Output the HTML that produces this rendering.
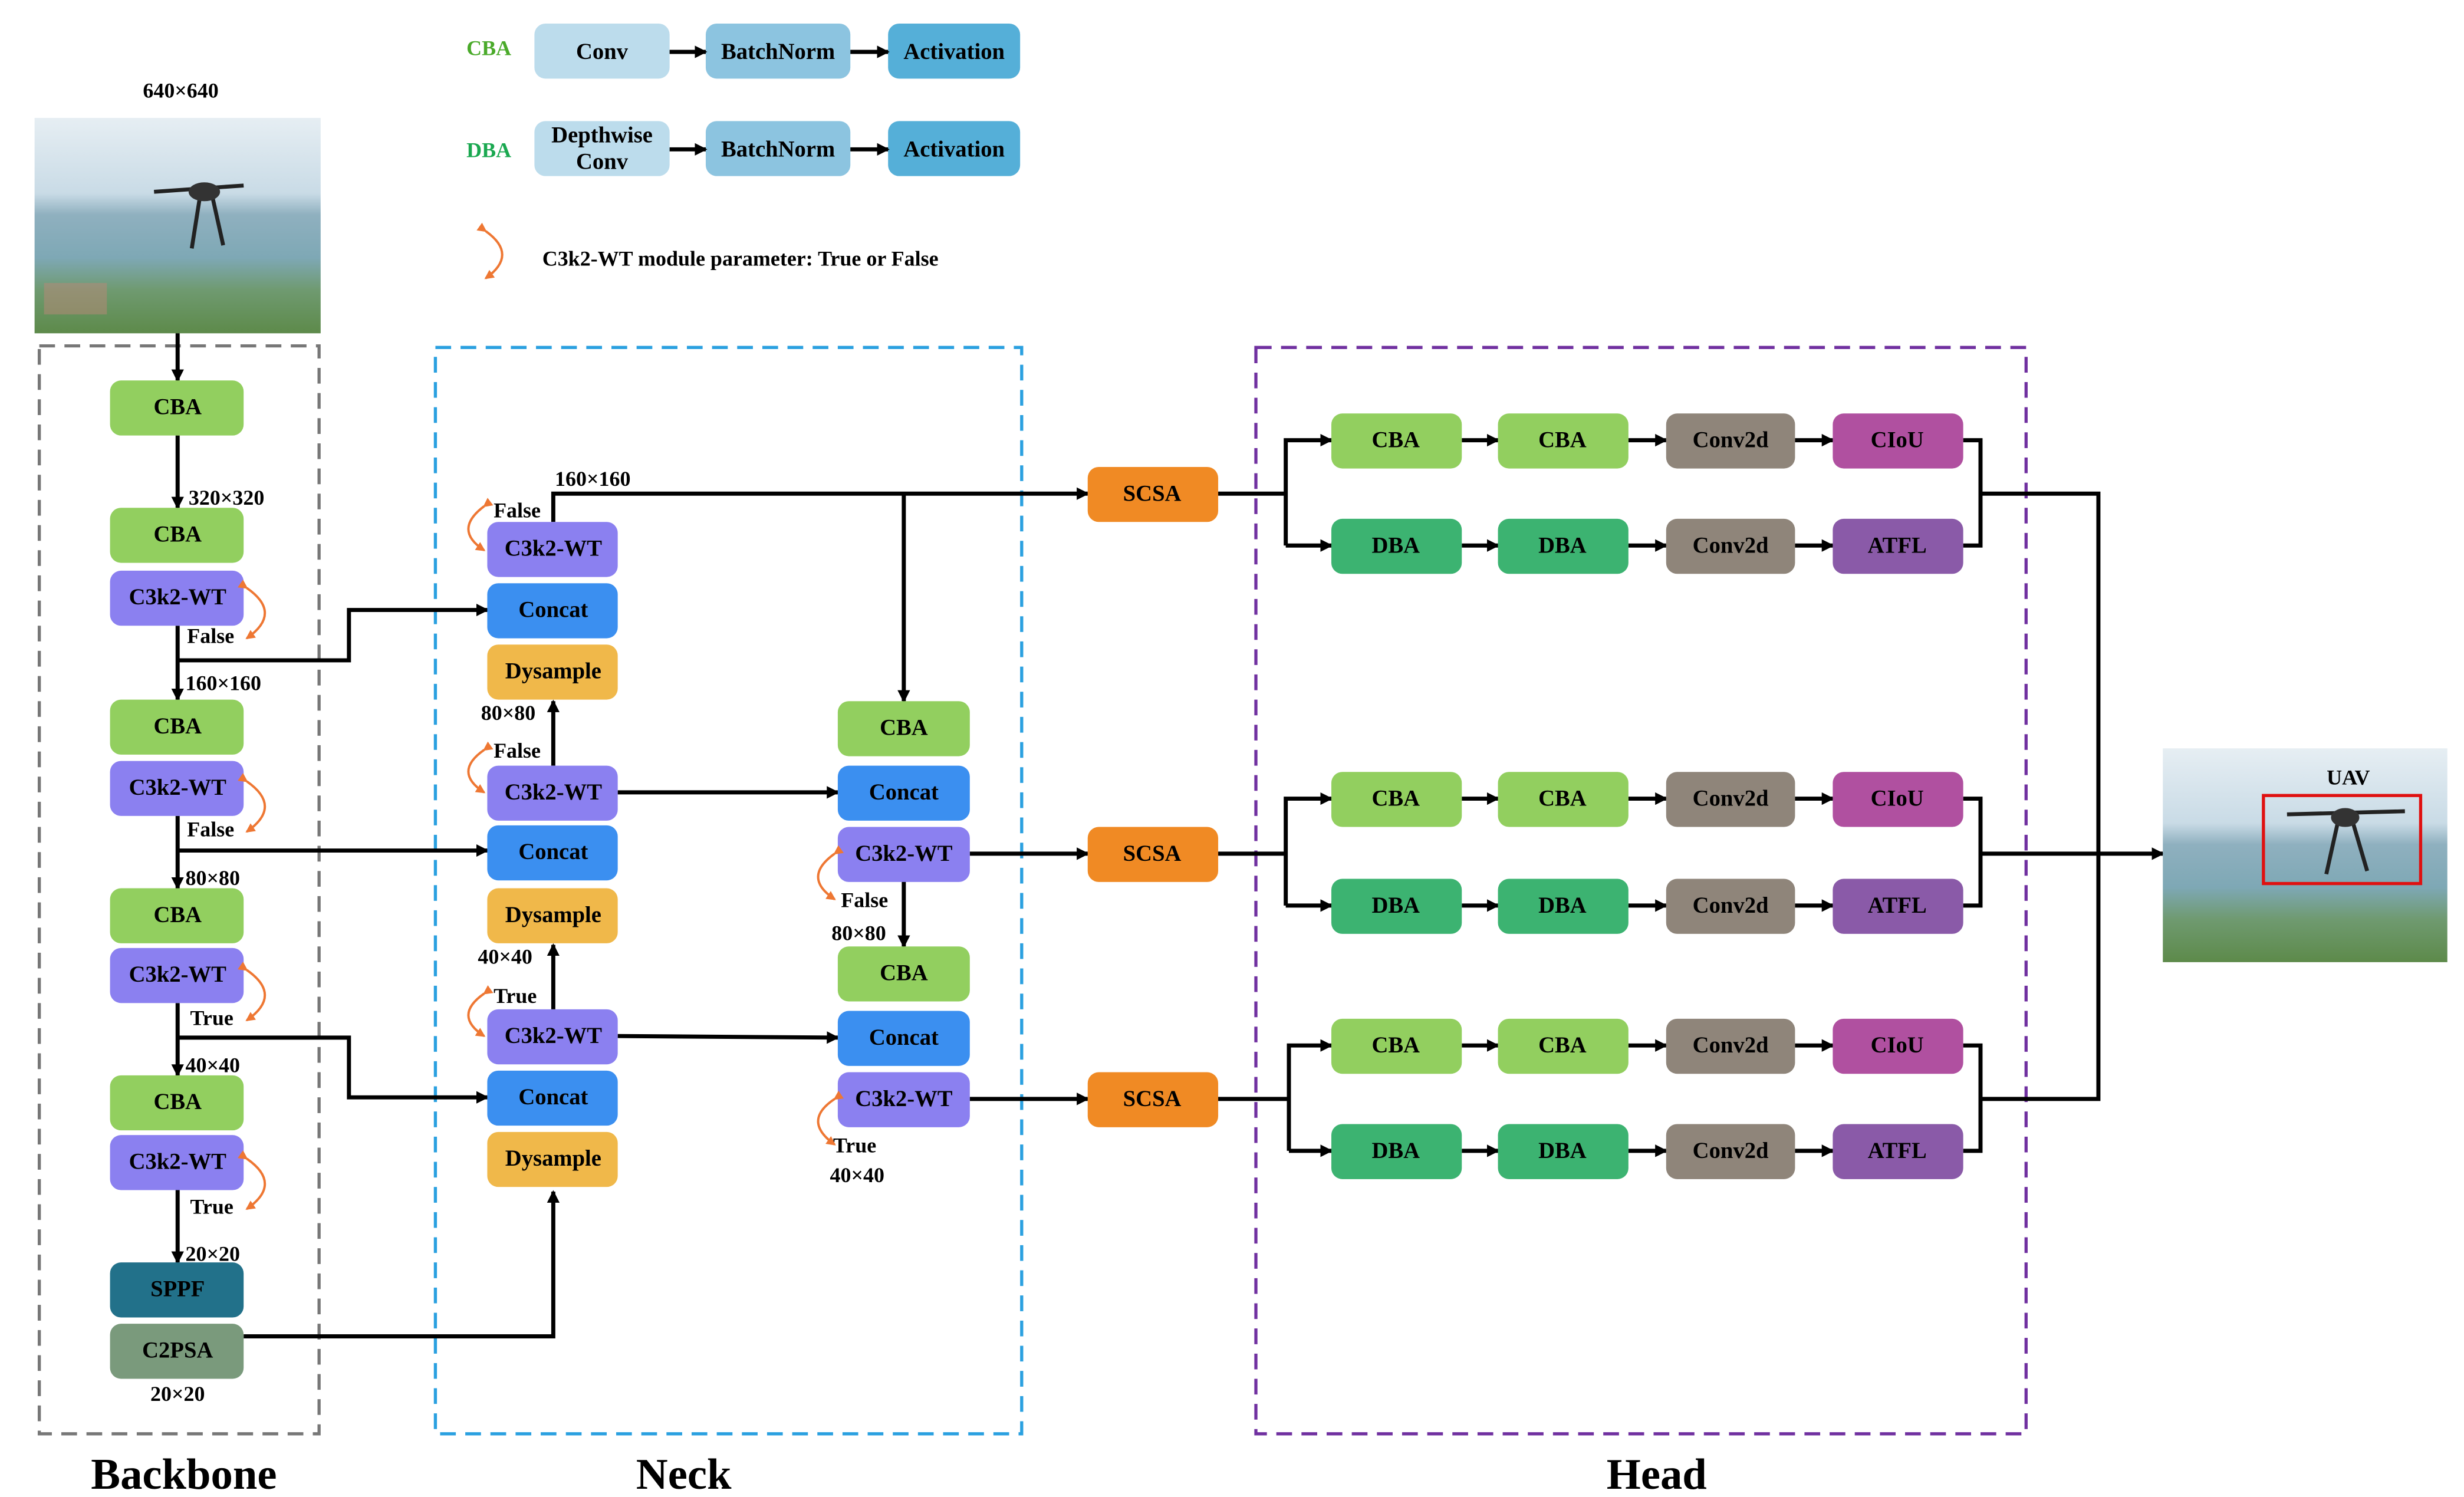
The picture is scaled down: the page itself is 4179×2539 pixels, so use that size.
<!DOCTYPE html>
<html><head><meta charset="utf-8"><style>
html,body{margin:0;padding:0;background:#fff;}
svg{display:block;}
text{font-family:"Liberation Serif",serif;font-weight:bold;}
</style></head><body>
<svg width="4179" height="2539" viewBox="0 0 1567.6 952.2" preserveAspectRatio="none" xmlns="http://www.w3.org/2000/svg">
<defs>
<marker id="a" markerWidth="8" markerHeight="8" refX="7" refY="4" orient="auto" markerUnits="userSpaceOnUse"><path d="M0,0 L8,4 L0,8 z" fill="#000"/></marker>
<marker id="o" markerWidth="6" markerHeight="6" refX="5" refY="3" orient="auto" markerUnits="userSpaceOnUse"><path d="M0,0 L6,3 L0,6 z" fill="#ee7733"/></marker>
<linearGradient id="sky" x1="0" y1="0" x2="0" y2="1">
<stop offset="0" stop-color="#e6eef3"/><stop offset="0.35" stop-color="#c9dbe6"/><stop offset="0.45" stop-color="#8fb0bf"/><stop offset="0.65" stop-color="#7ea8b5"/><stop offset="0.8" stop-color="#6f9a70"/><stop offset="1" stop-color="#5d8a4a"/></linearGradient>
</defs>
<style>
.b{stroke:none;}
.t{font-size:14.5px;text-anchor:middle;dominant-baseline:central;}
.s{font-size:13.5px;}
.l{stroke:#000;stroke-width:2.6;fill:none;}
.la{stroke:#000;stroke-width:2.6;fill:none;marker-end:url(#a);}
.oc{stroke:#ee7733;stroke-width:1.5;fill:none;marker-end:url(#o);marker-start:url(#o);}
</style>

<!-- legend -->
<text x="311" y="35" class="s" fill="#4aaa2a" text-anchor="middle" font-size="15">CBA</text>
<text x="311" y="100" class="s" fill="#1aa850" text-anchor="middle" font-size="15">DBA</text>
<rect x="340" y="15" width="86" height="35" rx="7" fill="#bcdcec"/><text x="383" y="33" class="t">Conv</text>
<rect x="449" y="15" width="92" height="35" rx="7" fill="#8cc4e0"/><text x="495" y="33" class="t">BatchNorm</text>
<rect x="565" y="15" width="84" height="35" rx="7" fill="#55afd8"/><text x="607" y="33" class="t">Activation</text>
<rect x="340" y="77" width="86" height="35" rx="7" fill="#bcdcec"/><text x="383" y="86" class="t">Depthwise</text><text x="383" y="103" class="t">Conv</text>
<rect x="449" y="77" width="92" height="35" rx="7" fill="#8cc4e0"/><text x="495" y="95" class="t">BatchNorm</text>
<rect x="565" y="77" width="84" height="35" rx="7" fill="#55afd8"/><text x="607" y="95" class="t">Activation</text>
<line x1="426" y1="33" x2="449" y2="33" class="la"/><line x1="541" y1="33" x2="565" y2="33" class="la"/>
<line x1="426" y1="95" x2="449" y2="95" class="la"/><line x1="541" y1="95" x2="565" y2="95" class="la"/>
<path d="M309,147 Q330,162 309,177" class="oc"/>
<text x="345" y="169" class="s" font-size="14.5">C3k2-WT module parameter: True or False</text>

<!-- input photo -->
<text x="115" y="62" class="s" text-anchor="middle">640×640</text>
<rect x="22" y="75" width="182" height="137" fill="url(#sky)"/>
<rect x="28" y="180" width="40" height="20" fill="#b98878" opacity="0.5"/>
<g stroke="#222" stroke-width="2.5"><line x1="98" y1="122" x2="155" y2="118"/><line x1="128" y1="120" x2="122" y2="158"/><line x1="134" y1="120" x2="142" y2="156"/></g>
<ellipse cx="130" cy="122" rx="10" ry="6" fill="#333"/>

<!-- dashed containers -->
<rect x="25" y="220" width="178" height="692" fill="none" stroke="#777" stroke-width="2" stroke-dasharray="10,6"/>
<rect x="277" y="221" width="373" height="691" fill="none" stroke="#2aa0e0" stroke-width="2" stroke-dasharray="10,6"/>
<rect x="799" y="221" width="490" height="691" fill="none" stroke="#7030a0" stroke-width="2" stroke-dasharray="10,6"/>
<text x="117" y="947" font-size="28" text-anchor="middle">Backbone</text>
<text x="435" y="947" font-size="28" text-anchor="middle">Neck</text>
<text x="1054" y="947" font-size="28" text-anchor="middle">Head</text>

<!-- backbone connectors -->
<line x1="113" y1="212" x2="113" y2="242" class="la"/>
<line x1="113" y1="277" x2="113" y2="323" class="la"/>
<line x1="113" y1="398" x2="113" y2="445" class="la"/>
<line x1="113" y1="519" x2="113" y2="565" class="la"/>
<line x1="113" y1="638" x2="113" y2="684" class="la"/>
<line x1="113" y1="757" x2="113" y2="803" class="la"/>
<polyline points="113,420 222,420 222,388 310,388" class="la"/>
<line x1="113" y1="541" x2="310" y2="541" class="la"/>
<polyline points="113,660 222,660 222,698 310,698" class="la"/>
<polyline points="155,850 352,850 352,758" class="la"/>

<!-- neck connectors -->
<line x1="352" y1="487" x2="352" y2="446" class="la"/>
<line x1="352" y1="642" x2="352" y2="601" class="la"/>
<polyline points="352,332 352,314 692,314" class="la"/>
<line x1="575" y1="314" x2="575" y2="446" class="la"/>
<line x1="393" y1="504" x2="533" y2="504" class="la"/>
<line x1="393" y1="659" x2="533" y2="660" class="la"/>
<line x1="617" y1="543" x2="692" y2="543" class="la"/>
<line x1="575" y1="560" x2="575" y2="602" class="la"/>
<line x1="617" y1="699" x2="692" y2="699" class="la"/>

<!-- head connectors -->
<g>
<polyline points="775,314 818,314" class="l"/><polyline points="818,347 818,280 847,280" class="la"/><line x1="818" y1="347" x2="847" y2="347" class="la"/>
<polyline points="775,543 818,543" class="l"/><polyline points="818,576 818,508 847,508" class="la"/><line x1="818" y1="576" x2="847" y2="576" class="la"/>
<polyline points="775,699 820,699" class="l"/><polyline points="820,732 820,665 847,665" class="la"/><line x1="820" y1="732" x2="847" y2="732" class="la"/>
</g>
<g>
<line x1="930" y1="280" x2="953" y2="280" class="la"/><line x1="1036" y1="280" x2="1060" y2="280" class="la"/><line x1="1142" y1="280" x2="1166" y2="280" class="la"/>
<line x1="930" y1="347" x2="953" y2="347" class="la"/><line x1="1036" y1="347" x2="1060" y2="347" class="la"/><line x1="1142" y1="347" x2="1166" y2="347" class="la"/>
<line x1="930" y1="508" x2="953" y2="508" class="la"/><line x1="1036" y1="508" x2="1060" y2="508" class="la"/><line x1="1142" y1="508" x2="1166" y2="508" class="la"/>
<line x1="930" y1="576" x2="953" y2="576" class="la"/><line x1="1036" y1="576" x2="1060" y2="576" class="la"/><line x1="1142" y1="576" x2="1166" y2="576" class="la"/>
<line x1="930" y1="665" x2="953" y2="665" class="la"/><line x1="1036" y1="665" x2="1060" y2="665" class="la"/><line x1="1142" y1="665" x2="1166" y2="665" class="la"/>
<line x1="930" y1="732" x2="953" y2="732" class="la"/><line x1="1036" y1="732" x2="1060" y2="732" class="la"/><line x1="1142" y1="732" x2="1166" y2="732" class="la"/>
</g>
<polyline points="1249,280 1260,280 1260,347 1249,347" class="l"/>
<polyline points="1249,508 1260,508 1260,576 1249,576" class="l"/>
<polyline points="1249,665 1260,665 1260,732 1249,732" class="l"/>
<polyline points="1260,314 1335,314 1335,699 1260,699" class="l"/>
<line x1="1260" y1="543" x2="1376" y2="543" class="la"/>

<!-- backbone boxes -->
<g class="t">
<rect x="70" y="242" width="85" height="35" rx="7" fill="#92cf5f"/><text x="113" y="259" class="t">CBA</text>
<rect x="70" y="323" width="85" height="35" rx="7" fill="#92cf5f"/><text x="113" y="340" class="t">CBA</text>
<rect x="70" y="363" width="85" height="35" rx="7" fill="#8b80f0"/><text x="113" y="380" class="t">C3k2-WT</text>
<rect x="70" y="445" width="85" height="35" rx="7" fill="#92cf5f"/><text x="113" y="462" class="t">CBA</text>
<rect x="70" y="484" width="85" height="35" rx="7" fill="#8b80f0"/><text x="113" y="501" class="t">C3k2-WT</text>
<rect x="70" y="565" width="85" height="35" rx="7" fill="#92cf5f"/><text x="113" y="582" class="t">CBA</text>
<rect x="70" y="603" width="85" height="35" rx="7" fill="#8b80f0"/><text x="113" y="620" class="t">C3k2-WT</text>
<rect x="70" y="684" width="85" height="35" rx="7" fill="#92cf5f"/><text x="113" y="701" class="t">CBA</text>
<rect x="70" y="722" width="85" height="35" rx="7" fill="#8b80f0"/><text x="113" y="739" class="t">C3k2-WT</text>
<rect x="70" y="803" width="85" height="35" rx="7" fill="#22718a"/><text x="113" y="820" class="t">SPPF</text>
<rect x="70" y="842" width="85" height="35" rx="7" fill="#7a9a7c"/><text x="113" y="859" class="t">C2PSA</text>
</g>
<text x="120" y="321" class="s">320×320</text>
<text x="118" y="439" class="s">160×160</text>
<text x="118" y="563" class="s">80×80</text>
<text x="118" y="682" class="s">40×40</text>
<text x="118" y="802" class="s">20×20</text>
<text x="113" y="891" class="s" text-anchor="middle">20×20</text>
<text x="119" y="409" class="s">False</text>
<text x="119" y="532" class="s">False</text>
<text x="121" y="652" class="s">True</text>
<text x="121" y="772" class="s">True</text>
<path d="M157,374 Q180,390 157,406" class="oc"/>
<path d="M157,497 Q180,513 157,529" class="oc"/>
<path d="M157,617 Q180,633 157,649" class="oc"/>
<path d="M157,737 Q180,753 157,769" class="oc"/>

<!-- neck boxes -->
<rect x="310" y="332" width="83" height="35" rx="7" fill="#8b80f0"/><text x="352" y="349" class="t">C3k2-WT</text>
<rect x="310" y="371" width="83" height="35" rx="7" fill="#3b8ff0"/><text x="352" y="388" class="t">Concat</text>
<rect x="310" y="410" width="83" height="35" rx="7" fill="#f0b84a"/><text x="352" y="427" class="t">Dysample</text>
<rect x="310" y="487" width="83" height="35" rx="7" fill="#8b80f0"/><text x="352" y="504" class="t">C3k2-WT</text>
<rect x="310" y="525" width="83" height="35" rx="7" fill="#3b8ff0"/><text x="352" y="542" class="t">Concat</text>
<rect x="310" y="565" width="83" height="35" rx="7" fill="#f0b84a"/><text x="352" y="582" class="t">Dysample</text>
<rect x="310" y="642" width="83" height="35" rx="7" fill="#8b80f0"/><text x="352" y="659" class="t">C3k2-WT</text>
<rect x="310" y="681" width="83" height="35" rx="7" fill="#3b8ff0"/><text x="352" y="698" class="t">Concat</text>
<rect x="310" y="720" width="83" height="35" rx="7" fill="#f0b84a"/><text x="352" y="737" class="t">Dysample</text>
<rect x="533" y="446" width="84" height="35" rx="7" fill="#92cf5f"/><text x="575" y="463" class="t">CBA</text>
<rect x="533" y="487" width="84" height="35" rx="7" fill="#3b8ff0"/><text x="575" y="504" class="t">Concat</text>
<rect x="533" y="526" width="84" height="35" rx="7" fill="#8b80f0"/><text x="575" y="543" class="t">C3k2-WT</text>
<rect x="533" y="602" width="84" height="35" rx="7" fill="#92cf5f"/><text x="575" y="619" class="t">CBA</text>
<rect x="533" y="643" width="84" height="35" rx="7" fill="#3b8ff0"/><text x="575" y="660" class="t">Concat</text>
<rect x="533" y="682" width="84" height="35" rx="7" fill="#8b80f0"/><text x="575" y="699" class="t">C3k2-WT</text>
<text x="353" y="309" class="s">160×160</text>
<text x="314" y="329" class="s">False</text>
<text x="306" y="458" class="s">80×80</text>
<text x="314" y="482" class="s">False</text>
<text x="304" y="613" class="s">40×40</text>
<text x="314" y="638" class="s">True</text>
<text x="535" y="577" class="s">False</text>
<text x="529" y="598" class="s">80×80</text>
<text x="530" y="733" class="s">True</text>
<text x="528" y="752" class="s">40×40</text>
<path d="M308,322 Q288,337 308,350" class="oc"/>
<path d="M308,477 Q288,491 308,504" class="oc"/>
<path d="M308,632 Q288,646 308,659" class="oc"/>
<path d="M531,543 Q510,558 531,572" class="oc"/>
<path d="M531,699 Q510,713 531,728" class="oc"/>

<!-- SCSA -->
<rect x="692" y="297" width="83" height="35" rx="7" fill="#f08a24"/><text x="733" y="314" class="t">SCSA</text>
<rect x="692" y="526" width="83" height="35" rx="7" fill="#f08a24"/><text x="733" y="543" class="t">SCSA</text>
<rect x="692" y="682" width="83" height="35" rx="7" fill="#f08a24"/><text x="733" y="699" class="t">SCSA</text>

<!-- head boxes -->
<g>
<rect x="847" y="263" width="83" height="35" rx="7" fill="#92cf5f"/><text x="888" y="280" class="t">CBA</text>
<rect x="953" y="263" width="83" height="35" rx="7" fill="#92cf5f"/><text x="994" y="280" class="t">CBA</text>
<rect x="1060" y="263" width="82" height="35" rx="7" fill="#8f857a"/><text x="1101" y="280" class="t">Conv2d</text>
<rect x="1166" y="263" width="83" height="35" rx="7" fill="#b050a0"/><text x="1207" y="280" class="t">CIoU</text>
<rect x="847" y="330" width="83" height="35" rx="7" fill="#3cb371"/><text x="888" y="347" class="t">DBA</text>
<rect x="953" y="330" width="83" height="35" rx="7" fill="#3cb371"/><text x="994" y="347" class="t">DBA</text>
<rect x="1060" y="330" width="82" height="35" rx="7" fill="#8f857a"/><text x="1101" y="347" class="t">Conv2d</text>
<rect x="1166" y="330" width="83" height="35" rx="7" fill="#8a5aa8"/><text x="1207" y="347" class="t">ATFL</text>

<rect x="847" y="491" width="83" height="35" rx="7" fill="#92cf5f"/><text x="888" y="508" class="t">CBA</text>
<rect x="953" y="491" width="83" height="35" rx="7" fill="#92cf5f"/><text x="994" y="508" class="t">CBA</text>
<rect x="1060" y="491" width="82" height="35" rx="7" fill="#8f857a"/><text x="1101" y="508" class="t">Conv2d</text>
<rect x="1166" y="491" width="83" height="35" rx="7" fill="#b050a0"/><text x="1207" y="508" class="t">CIoU</text>
<rect x="847" y="559" width="83" height="35" rx="7" fill="#3cb371"/><text x="888" y="576" class="t">DBA</text>
<rect x="953" y="559" width="83" height="35" rx="7" fill="#3cb371"/><text x="994" y="576" class="t">DBA</text>
<rect x="1060" y="559" width="82" height="35" rx="7" fill="#8f857a"/><text x="1101" y="576" class="t">Conv2d</text>
<rect x="1166" y="559" width="83" height="35" rx="7" fill="#8a5aa8"/><text x="1207" y="576" class="t">ATFL</text>

<rect x="847" y="648" width="83" height="35" rx="7" fill="#92cf5f"/><text x="888" y="665" class="t">CBA</text>
<rect x="953" y="648" width="83" height="35" rx="7" fill="#92cf5f"/><text x="994" y="665" class="t">CBA</text>
<rect x="1060" y="648" width="82" height="35" rx="7" fill="#8f857a"/><text x="1101" y="665" class="t">Conv2d</text>
<rect x="1166" y="648" width="83" height="35" rx="7" fill="#b050a0"/><text x="1207" y="665" class="t">CIoU</text>
<rect x="847" y="715" width="83" height="35" rx="7" fill="#3cb371"/><text x="888" y="732" class="t">DBA</text>
<rect x="953" y="715" width="83" height="35" rx="7" fill="#3cb371"/><text x="994" y="732" class="t">DBA</text>
<rect x="1060" y="715" width="82" height="35" rx="7" fill="#8f857a"/><text x="1101" y="732" class="t">Conv2d</text>
<rect x="1166" y="715" width="83" height="35" rx="7" fill="#8a5aa8"/><text x="1207" y="732" class="t">ATFL</text>
</g>

<!-- output photo -->
<rect x="1376" y="476" width="181" height="136" fill="url(#sky)"/>
<g stroke="#222" stroke-width="2.5"><line x1="1455" y1="518" x2="1530" y2="516"/><line x1="1488" y1="520" x2="1480" y2="556"/><line x1="1496" y1="520" x2="1506" y2="554"/></g>
<ellipse cx="1492" cy="520" rx="9" ry="6" fill="#333"/>
<rect x="1440" y="506" width="100" height="56" fill="none" stroke="#e01010" stroke-width="2"/>
<text x="1494" y="499" class="s" text-anchor="middle">UAV</text>
</svg>
</body></html>
